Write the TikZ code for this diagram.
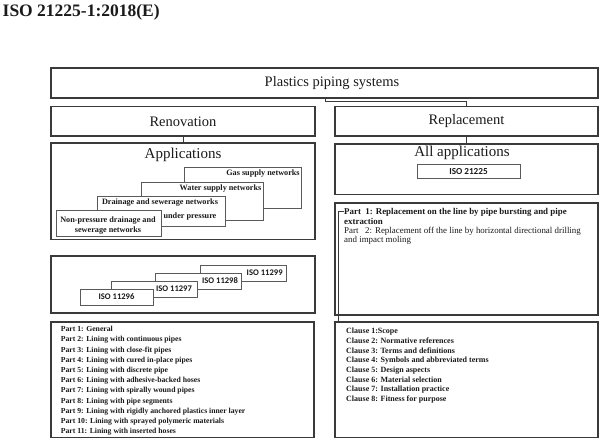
\documentclass[tikz,border=0pt]{standalone}
\usepackage{fontspec}
\setmainfont{Liberation Serif}
\newfontfamily\carlitof{Carlito}
\usetikzlibrary{fit}
\definecolor{boxc}{HTML}{3A3A3A}
\definecolor{sboxc}{HTML}{5A5A5A}
\definecolor{txtc}{HTML}{1A1A1A}
\begin{document}
\begin{tikzpicture}[x=1pt,y=-1pt,
  box/.style={draw=boxc, line width=1.1pt, fill=white, inner sep=0pt},
  sbox/.style={draw=sboxc, line width=0.8pt, fill=white, inner sep=0pt},
  conn/.style={draw=boxc, line width=1pt},
  txt/.style={inner sep=0pt, text=txtc},
  bigt/.style={txt, font=\fontsize{14.5}{16}\selectfont},
  appt/.style={txt, font=\fontsize{15}{17}\selectfont},
  stairt/.style={txt, font=\fontsize{8.2}{10}\selectfont\bfseries},
  isot/.style={txt, font=\carlitof\fontsize{8.6}{10}\selectfont\bfseries},
  listt/.style={txt, anchor=base west, font=\fontsize{7.7}{9}\selectfont\bfseries},
  clauset/.style={txt, anchor=base west, font=\fontsize{8}{9}\selectfont\bfseries},
  rpt/.style={txt, anchor=base west, font=\fontsize{8.9}{10}\selectfont}]
\useasboundingbox (0,0) rectangle (606,441);
\fill[white] (0,0) rectangle (606,441);

% title
\node[txt, anchor=base west, font=\fontsize{17.5}{20}\selectfont\bfseries] (title) at (2.5,16.5) {ISO 21225-1:2018(E)};

% main boxes
\node[box, fit={(51,68) (598,98)}] (plast) {};
\node[bigt] (plastt) at (332,83) {Plastics piping systems};
\node[box, fit={(51,106.7) (315,136)}] (reno) {};
\node[bigt] (renot) at (reno.center) {Renovation};
\node[box, fit={(335,106.7) (598,136)}] (rep) {};
\node[bigt] (rept) at (rep.center) {Replacement};

% connectors
\coordinate (c1) at (325,102);
\draw[conn] (plast.south -| c1) -- (c1) -| (rep.north);

% applications
\node[box, fit={(51,143) (315,239.5)}] (apps) {};
\node[appt] (appst) at (183,155) {Applications};
\draw[conn] (reno.south) -- (apps.north);

% stair boxes
\node[sbox, fit={(184,167) (301,208)}] (gas) {};
\node[sbox, fit={(141,182) (263,220)}] (water) {};
\node[sbox, fit={(97,196) (225,226)}] (drain) {};
\node[sbox, fit={(56,210) (161,236.5)}] (nonp) {};
\node[stairt] (gast) at (263,174) {Gas supply networks};
\node[stairt] (watert) at (220.5,189) {Water supply networks};
\node[stairt] (draint) at (160,203) {Drainage and sewerage networks};
\node[stairt] (drain2t) at (190,217) {under pressure};
\node[stairt] (nonpt) at (108,221) {Non-pressure drainage and};
\node[stairt] (nonp2t) at (108,231) {sewerage networks};

% ISO box
\node[box, fit={(51,256) (315,313)}] (isobox) {};
\node[sbox, fit={(200,265) (286,281)}] (i99) {};
\node[sbox, fit={(155,273) (241,289)}] (i98) {};
\node[sbox, fit={(111,281) (197,297)}] (i97) {};
\node[sbox, fit={(80,289) (153,305)}] (i96) {};
\node[isot] (i99t) at (264.7,272.5) {ISO 11299};
\node[isot] (i98t) at (220,280.5) {ISO 11298};
\node[isot] (i97t) at (174,288.5) {ISO 11297};
\node[isot] (i96t) at (116.5,297) {ISO 11296};

% left list
\node[box, fit={(51,322) (314,437.5)}] (lparts) {};
\foreach \t [count=\i] in {Part 1: General,
  Part 2: Lining with continuous pipes,
  Part 3: Lining with close-fit pipes,
  Part 4: Lining with cured in-place pipes,
  Part 5: Lining with discrete pipe,
  Part 6: Lining with adhesive-backed hoses,
  Part 7: Lining with spirally wound pipes,
  Part 8: Lining with pipe segments,
  Part 9: Lining with rigidly anchored plastics inner layer,
  Part 10: Lining with sprayed polymeric materials,
  Part 11: Lining with inserted hoses}
  \node[listt] (lp\i) at (60.7,{331.7+(\i-1)*10.2}) {\t};

% right column
\node[box, fit={(335,144) (598,194.5)}] (allapps) {};
\node[appt] (allappst) at (462,153) {All applications};
\draw[conn] (rep.south) -- (allapps.north);
\node[sbox, fit={(417,164) (520,178.5)}] (i25) {};
\node[isot, font=\carlitof\fontsize{9.2}{10}\selectfont\bfseries] (i25t) at (i25.center) {ISO 21225};

\node[box, fit={(335,203) (598,315)}] (rparts) {};
\node[rpt, font=\fontsize{8.9}{10}\selectfont\bfseries] (rp1) at (344,214.7) {Part\ \ 1: Replacement on the line by pipe bursting and pipe};
\node[rpt, font=\fontsize{8.9}{10}\selectfont\bfseries] (rp1b) at (344,224.4) {extraction};
\node[rpt] (rp2) at (344,233.7) {Part\ \ \ 2: Replacement off the line by horizontal directional drilling};
\node[rpt] (rp2b) at (344,243) {and impact moling};

\node[box, fit={(335,322) (598,437.5)}] (clauses) {};
\foreach \t [count=\i] in {Clause 1:Scope,
  Clause 2: Normative references,
  Clause 3: Terms and definitions,
  Clause 4: Symbols and abbreviated terms,
  Clause 5: Design aspects,
  Clause 6: Material selection,
  Clause 7: Installation practice,
  Clause 8: Fitness for purpose}
  \node[clauset] (cl\i) at (346,{333.7+(\i-1)*9.7}) {\t};

% bracket connector
\coordinate (brs) at (343.5,212);
\coordinate (br) at (338,212);
\draw[conn] (brs) -- (br) -- (br |- clauses.north);
\end{tikzpicture}
\end{document}
